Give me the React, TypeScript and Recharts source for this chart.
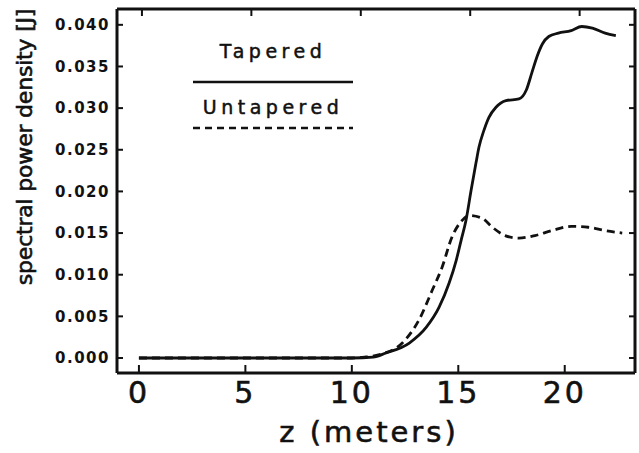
import { LineChart, Line, XAxis, YAxis, Legend } from "recharts";

// tapered (solid) curve
const taperedZ = [0, 5, 10, 11.0, 11.6, 12.7, 13.5, 14.1, 14.57, 14.9, 15.13, 15.36, 15.6, 15.83, 15.97, 16.2, 16.44, 16.77, 17.24, 17.85, 18.2, 18.45, 18.7, 18.95, 19.25, 19.7, 20.3, 20.8, 21.3, 21.9, 22.4];
const taperedJ = [0, 0, 0, 0.0001, 0.0006, 0.0018, 0.0037, 0.0061, 0.009, 0.0117, 0.0141, 0.0165, 0.0201, 0.0234, 0.0253, 0.0273, 0.0289, 0.0301, 0.0309, 0.0311, 0.0322, 0.0342, 0.0362, 0.0377, 0.0386, 0.039, 0.0393, 0.0398, 0.0396, 0.039, 0.0387];

// untapered (dashed) curve
const untaperedZ = [0, 5, 10, 10.6, 11.3, 12.37, 13.16, 13.77, 14.24, 14.7, 15.17, 15.5, 16.1, 16.6, 17.2, 17.85, 18.6, 19.4, 20.3, 21.1, 21.9, 22.7];
const untaperedJ = [0, 0, 0, 0.0001, 0.0004, 0.0018, 0.0046, 0.0081, 0.0109, 0.0145, 0.0165, 0.0171, 0.0168, 0.0157, 0.0147, 0.0144, 0.0147, 0.0153, 0.0158, 0.0157, 0.0153, 0.015];

const zTicks = [0, 5, 10, 15, 20];
const jTicks = [0, 0.005, 0.01, 0.015, 0.02, 0.025, 0.03, 0.035, 0.04];

const tapered = taperedZ.map((z, i) => ({ z, j: taperedJ[i] }));
const untapered = untaperedZ.map((z, i) => ({ z, j: untaperedJ[i] }));

const FONT = "'DejaVu Sans', sans-serif";

function FigureLegend() {
  return (
    <svg width={639} height={150} style={{ display: "block" }}>
      <text x={273} y={58} textAnchor="middle" fontFamily={FONT} fontSize={19} letterSpacing={4.5} fill="#111" stroke="#111" strokeWidth={0.5}>
        Tapered
      </text>
      <line x1={193} x2={353} y1={82} y2={82} stroke="#111" strokeWidth={2.5} />
      <text x={273} y={114} textAnchor="middle" fontFamily={FONT} fontSize={19} letterSpacing={4.5} fill="#111" stroke="#111" strokeWidth={0.5}>
        Untapered
      </text>
      <line x1={193} x2={353} y1={128} y2={128} stroke="#111" strokeWidth={2.5} strokeDasharray="7 5" />
    </svg>
  );
}

const hidden = () => <g />;

export default function App() {
  return (
    <div style={{ position: "absolute", left: 0, top: 0, width: 639, height: 453, background: "#fff" }}>
      <LineChart width={639} height={453} margin={{ top: 8, right: 3, left: 0, bottom: 0 }}>
        <XAxis
          xAxisId="bottom"
          dataKey="z"
          type="number"
          domain={[-1.03, 23.3]}
          ticks={zTicks}
          allowDataOverflow
          height={80}
          axisLine={{ stroke: "#111", strokeWidth: 3 }}
          tickLine={{ stroke: "#111", strokeWidth: 2 }}
          tickSize={-8}
          tickMargin={17}
          tick={{ fontFamily: FONT, fontSize: 30, fill: "#111", stroke: "#111", strokeWidth: 0.6, letterSpacing: 3 }}
          label={{
            content: () => (
              <text x={369} y={442} textAnchor="middle" fontFamily={FONT} fontSize={29} letterSpacing={3} fill="#111" stroke="#111" strokeWidth={0.6}>
                z  (meters)
              </text>
            ),
          }}
        />
        <XAxis
          xAxisId="top"
          dataKey="z"
          orientation="top"
          type="number"
          domain={[-1.14, 22.53]}
          ticks={zTicks}
          allowDataOverflow
          height={1}
          axisLine={{ stroke: "#111", strokeWidth: 3 }}
          tickLine={{ stroke: "#111", strokeWidth: 2 }}
          tickSize={-7}
          tick={hidden}
        />
        <YAxis
          yAxisId="left"
          type="number"
          domain={[-0.0018, 0.0419]}
          ticks={jTicks}
          allowDataOverflow
          width={117}
          axisLine={{ stroke: "#111", strokeWidth: 3 }}
          tickLine={{ stroke: "#111", strokeWidth: 2 }}
          tickSize={-6}
          tickMargin={13}
          tickFormatter={(v: number) => v.toFixed(3)}
          tick={{ fontFamily: FONT, fontSize: 15, fontWeight: "bold", fill: "#111", letterSpacing: 1.5 }}
          label={{
            content: () => (
              <text
                x={24}
                y={147}
                transform="rotate(-90 24 147)"
                textAnchor="middle"
                dominantBaseline="central"
                fontFamily={FONT}
                fontSize={22}
                letterSpacing={-0.2}
                fill="#111"
                stroke="#111"
                strokeWidth={0.6}
              >
                spectral power density [J]
              </text>
            ),
          }}
        />
        <YAxis
          yAxisId="right"
          orientation="right"
          type="number"
          domain={[-0.0018, 0.0419]}
          ticks={jTicks}
          allowDataOverflow
          width={1}
          axisLine={{ stroke: "#111", strokeWidth: 3 }}
          tickLine={{ stroke: "#111", strokeWidth: 2 }}
          tickSize={-6}
          tick={hidden}
        />
        <Legend
          layout="horizontal"
          verticalAlign="middle"
          align="center"
          wrapperStyle={{ left: 0, top: 0, width: 639, height: 150 }}
          content={() => <FigureLegend />}
        />
        {/* invisible series so the top and right frame axes are drawn */}
        <Line
          data={tapered}
          xAxisId="top"
          yAxisId="right"
          dataKey="j"
          stroke="none"
          dot={false}
          activeDot={false}
          legendType="none"
          isAnimationActive={false}
        />
        <Line
          data={tapered}
          xAxisId="bottom"
          yAxisId="left"
          dataKey="j"
          type="monotone"
          stroke="#111"
          strokeWidth={2.8}
          dot={false}
          isAnimationActive={false}
        />
        <Line
          data={untapered}
          xAxisId="bottom"
          yAxisId="left"
          dataKey="j"
          type="monotone"
          stroke="#111"
          strokeWidth={2.8}
          strokeDasharray="8 5"
          dot={false}
          isAnimationActive={false}
        />
      </LineChart>
    </div>
  );
}
